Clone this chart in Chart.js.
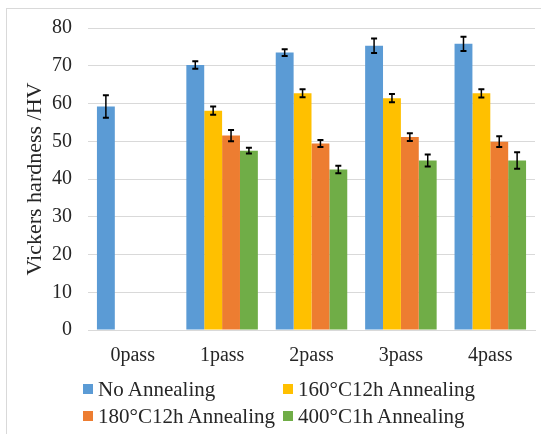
<!DOCTYPE html>
<html>
<head>
<meta charset="utf-8">
<script src="https://cdn.jsdelivr.net/npm/chart.js@4"></script>
<style>
  html, body { margin: 0; padding: 0; background: #fff; overflow: hidden; }
  #wrap { position: relative; width: 541px; height: 434px; }
  #frame { position: absolute; left: 6px; top: 8px; width: 600px; height: 500px; border: 1px solid #d9d9d9; }
  .lg { position: absolute; font: 21px "Liberation Serif", "Times New Roman", serif; color: #262626; white-space: nowrap; line-height: 24px; }
  .lg i { position: absolute; width: 10px; height: 10px; top: 7px; }
</style>
</head>
<body>
<div id="wrap">
  <div id="frame"></div>
  <canvas id="myChart" width="541" height="434"></canvas>
  <div id="legend"></div>
</div>
<script>
const categories = ['0pass', '1pass', '2pass', '3pass', '4pass'];
const seriesNames = ['No Annealing', '160\u00B0C12h Annealing', '180\u00B0C12h Annealing', '400\u00B0C1h Annealing'];
const noAnnealing = [59.2, 70.2, 73.5, 75.3, 75.8];
const anneal160 = [null, 58.1, 62.7, 61.4, 62.7];
const anneal180 = [null, 51.5, 49.4, 51.1, 49.9];
const anneal400 = [null, 47.5, 42.5, 44.9, 44.9];
const errNoAnnealing = [3.0, 1.0, 0.9, 1.9, 1.9];
const err160 = [null, 1.1, 1.05, 1.1, 1.1];
const err180 = [null, 1.5, 0.9, 1.05, 1.45];
const err400 = [null, 0.75, 1.0, 1.6, 2.2];
const yTicks = [0, 10, 20, 30, 40, 50, 60, 70, 80];

const colors = ['#5B9BD5', '#FFC000', '#ED7D31', '#70AD47'];
const values = [noAnnealing, anneal160, anneal180, anneal400];
const errors = [errNoAnnealing, err160, err180, err400];
const serif = '"Liberation Serif", "Times New Roman", serif';

// error bars drawn from the y scale
const errorBars = {
  id: 'errorBars',
  afterDatasetsDraw(chart) {
    const ctx = chart.ctx;
    const y = chart.scales.y;
    ctx.save();
    ctx.strokeStyle = '#000';
    chart.data.datasets.forEach((ds, i) => {
      const meta = chart.getDatasetMeta(i);
      meta.data.forEach((bar, j) => {
        const v = ds.data[j], e = errors[i][j];
        if (v == null || e == null) return;
        const top = y.getPixelForValue(v + e);
        const bot = y.getPixelForValue(v - e);
        ctx.lineWidth = 1.5;
        ctx.beginPath();
        ctx.moveTo(bar.x, top); ctx.lineTo(bar.x, bot);
        ctx.stroke();
        ctx.lineWidth = 2;
        ctx.beginPath();
        ctx.moveTo(bar.x - 3, top); ctx.lineTo(bar.x + 3, top);
        ctx.moveTo(bar.x - 3, bot); ctx.lineTo(bar.x + 3, bot);
        ctx.stroke();
      });
    });
    ctx.restore();
  }
};

const chart = new Chart(document.getElementById('myChart').getContext('2d'), {
  type: 'bar',
  data: {
    labels: categories,
    datasets: seriesNames.map((name, i) => ({
      label: name,
      data: values[i],
      backgroundColor: colors[i],
      borderWidth: 0,
      categoryPercentage: 0.8,
      barPercentage: 1.0
    }))
  },
  options: {
    responsive: false,
    animation: false,
    layout: { padding: { left: 0, right: 6, top: 26, bottom: 64 } },
    plugins: { legend: { display: false }, tooltip: { enabled: false } },
    scales: {
      x: {
        grid: { display: false, drawTicks: false },
        border: { color: '#d9d9d9' },
        ticks: { color: '#262626', padding: 14, font: { family: serif, size: 20 } },
        afterFit(s) { s.height = 40; }
      },
      y: {
        min: 0, max: 80,
        afterBuildTicks(s) { s.ticks = yTicks.map(v => ({ value: v })); },
        grid: { color: '#d9d9d9', drawTicks: false },
        border: { display: false },
        ticks: { color: '#262626', padding: 16, font: { family: serif, size: 20 } },
        title: {
          display: true, text: 'Vickers hardness /HV', color: '#262626',
          font: { family: serif, size: 22 }, padding: { top: 22, bottom: 0 }
        },
        afterFit(s) { s.width = 88; }
      }
    }
  },
  plugins: [errorBars]
});

// legend in two columns like the original
const legendEl = document.getElementById('legend');
const legendPos = [[83, 377], [283, 377], [83, 404], [283, 404]];
chart.data.datasets.forEach((ds, i) => {
  const d = document.createElement('div');
  d.className = 'lg';
  d.style.left = legendPos[i][0] + 'px';
  d.style.top = legendPos[i][1] + 'px';
  d.style.paddingLeft = '15px';
  d.innerHTML = '<i style="left:0;background:' + ds.backgroundColor + '"></i>' + ds.label;
  legendEl.appendChild(d);
});
</script>
</body>
</html>
